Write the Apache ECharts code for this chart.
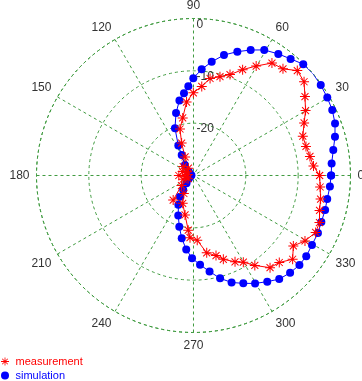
<!DOCTYPE html>
<html>
<head>
<meta charset="utf-8">
<script src="https://cdn.jsdelivr.net/npm/echarts@6/dist/echarts.min.js"></script>
<style>
html, body { margin: 0; padding: 0; background: #fff; }
#polarChart { width: 362px; height: 381px; }
</style>
</head>
<body>
<div id="polarChart"></div>
<script>
// angles in degrees, values in dB
var simAngle = [0,5,10.3,15.3,20.2,25.3,30.2,35.4,40.5,45.4,50.2,55.1,60.6,65.5,70.5,75.8,80.9,85.6,90.1,93.3,
	96.6,100.6,105.6,111.4,116.9,120,129,140,155,170,185,200,215,228,234.9,237.5,242.7,249.2,254.5,259.4,
	264.4,269,274.2,279.5,284.5,289.6,294.8,299.7,304.8,309.6,314.8,319.8,324.4,329.6,335.2,340,345.3,350,355.4,360];
var simValue = [-3.7,-3.5,-2.85,-1.97,-1.18,-0.67,-0.42,-0.17,0,-0.13,-1.0,-1.68,-2.46,-3.65,-4.9,-6.25,-8.0,-9.65,-11.4,-12.9,
	-14.2,-15.4,-17.6,-20.3,-23.6,-25.5,-27.4,-28.8,-29.3,-29.6,-29.5,-29.3,-28.9,-28.0,-26.6,-25.2,-23.7,-21.8,-19.85,-17.8,
	-15.8,-14.2,-12.9,-11.4,-9.7,-8.3,-7.3,-6.25,-5.3,-4.3,-3.8,-3.5,-3.5,-3.75,-3.8,-4.0,-4.0,-4.05,-3.85,-3.7];

var measAngle = [0,4.5,9.3,14.5,19.8,25.4,30.1,35.3,40.3,45.3,50,55.1,60.2,65.1,70.1,75,80.3,84.7,90.1,95.4,
	100.6,106.2,110.1,114.3,125,139,150,160,170,180,190,200,210,220,230.5,241.9,248.8,257.9,264.5,266.8,
	273.3,279.7,285.7,289.6,295.7,299.9,304.3,309.7,314.6,319.8,324.8,329.6,335,339.5,344.5,349.5,354.8,360];
var measValue = [-5.9,-7.0,-7.45,-7.8,-7.8,-6.6,-5.25,-3.9,-2.3,-1.8,-3.4,-3.8,-5.9,-7.7,-9.5,-10.45,-11.2,-12.9,-14.2,-15.9,
	-18.8,-20.75,-23.4,-26.1,-28.3,-27.4,-28.6,-27.8,-28.9,-27.2,-28.5,-27.9,-28.8,-27.0,-23.9,-26.1,-24.3,-22.3,-19.5,-18.1,
	-17.6,-15.0,-14.1,-13.0,-11.7,-10.9,-9.2,-7.1,-6.65,-5.2,-6.65,-5.3,-4.25,-4.3,-5.0,-5.3,-5.7,-5.9];

var rMin = -30, rMax = 0, rStep = 10;
var angleStep = 30;

function pairs(r, a) {
	var out = [];
	for (var i = 0; i < r.length; i++) out.push([r[i], a[i]]);
	return out;
}

// asterisk made of four thin bars (all same winding)
var starPath = 'path://M-0.1,-1L0.1,-1L0.1,1L-0.1,1Z' +
	'M-1,-0.1L1,-0.1L1,0.1L-1,0.1Z' +
	'M-0.63,-0.77L0.77,0.63L0.63,0.77L-0.77,-0.63Z' +
	'M-0.77,0.63L0.63,-0.77L0.77,-0.63L-0.63,0.77Z';

var gridGreen = '#3f9a3f';
var center = ['53.45%', '46.06%'];

var chart = echarts.init(document.getElementById('polarChart'));
var option = {
	animation: false,
	legend: {
		orient: 'vertical',
		left: 1,
		top: 356,
		height: 40,
		itemWidth: 11,
		itemHeight: 8,
		itemGap: 3,
		padding: 0,
		textStyle: { fontSize: 11, fontFamily: 'Liberation Sans' },
		data: [
			{ name: 'measurement', icon: starPath, textStyle: { color: '#ff0000' } },
			{ name: 'simulation', icon: 'circle', textStyle: { color: '#0000ff' } }
		]
	},
	polar: [
		{ center: center, radius: 157 },
		{ center: center, radius: 157 }
	],
	angleAxis: [
		{
			polarIndex: 0,
			type: 'value',
			min: 0,
			max: 360,
			interval: angleStep,
			startAngle: 0,
			clockwise: false,
			axisLine: { show: true, lineStyle: { color: gridGreen, type: [3, 3], width: 1 } },
			axisTick: { show: false },
			axisLabel: {
				margin: 7,
				color: '#333',
				fontSize: 12,
				fontFamily: 'Liberation Sans',
				formatter: function (v) { return v === 360 ? '' : String(v); }
			},
			splitLine: { show: true, lineStyle: { color: gridGreen, type: [3, 3], width: 1 } }
		},
		{
			polarIndex: 1,
			type: 'value',
			min: 0,
			max: 360,
			startAngle: 90,
			show: false
		}
	],
	radiusAxis: [
		{
			polarIndex: 0,
			type: 'value',
			min: rMin,
			max: rMax,
			interval: rStep,
			axisLine: { show: false },
			axisTick: { show: false },
			axisLabel: { show: false },
			splitLine: { show: true, lineStyle: { color: gridGreen, type: [3, 3], width: 1 } }
		},
		{
			polarIndex: 1,
			type: 'value',
			min: rMin,
			max: rMax,
			interval: rStep,
			axisLine: { show: false },
			axisTick: { show: false },
			splitLine: { show: false },
			axisLabel: {
				showMinLabel: false,
				color: '#333',
				fontSize: 12,
				fontFamily: 'Liberation Sans',
				align: 'left',
				verticalAlign: 'top',
				margin: -3
			}
		}
	],
	series: [
		{
			name: 'simulation',
			type: 'line',
			coordinateSystem: 'polar',
			polarIndex: 0,
			data: pairs(simValue, simAngle),
			symbol: 'circle',
			symbolSize: 8,
			lineStyle: { color: '#0000ff', width: 1 },
			itemStyle: { color: '#0000ff' }
		},
		{
			name: 'measurement',
			type: 'line',
			coordinateSystem: 'polar',
			polarIndex: 0,
			data: pairs(measValue, measAngle),
			symbol: starPath,
			symbolSize: 10,
			lineStyle: { color: '#ff0000', width: 1 },
			itemStyle: { color: '#ff0000' }
		}
	]
};
chart.setOption(option);
</script>
</body>
</html>
